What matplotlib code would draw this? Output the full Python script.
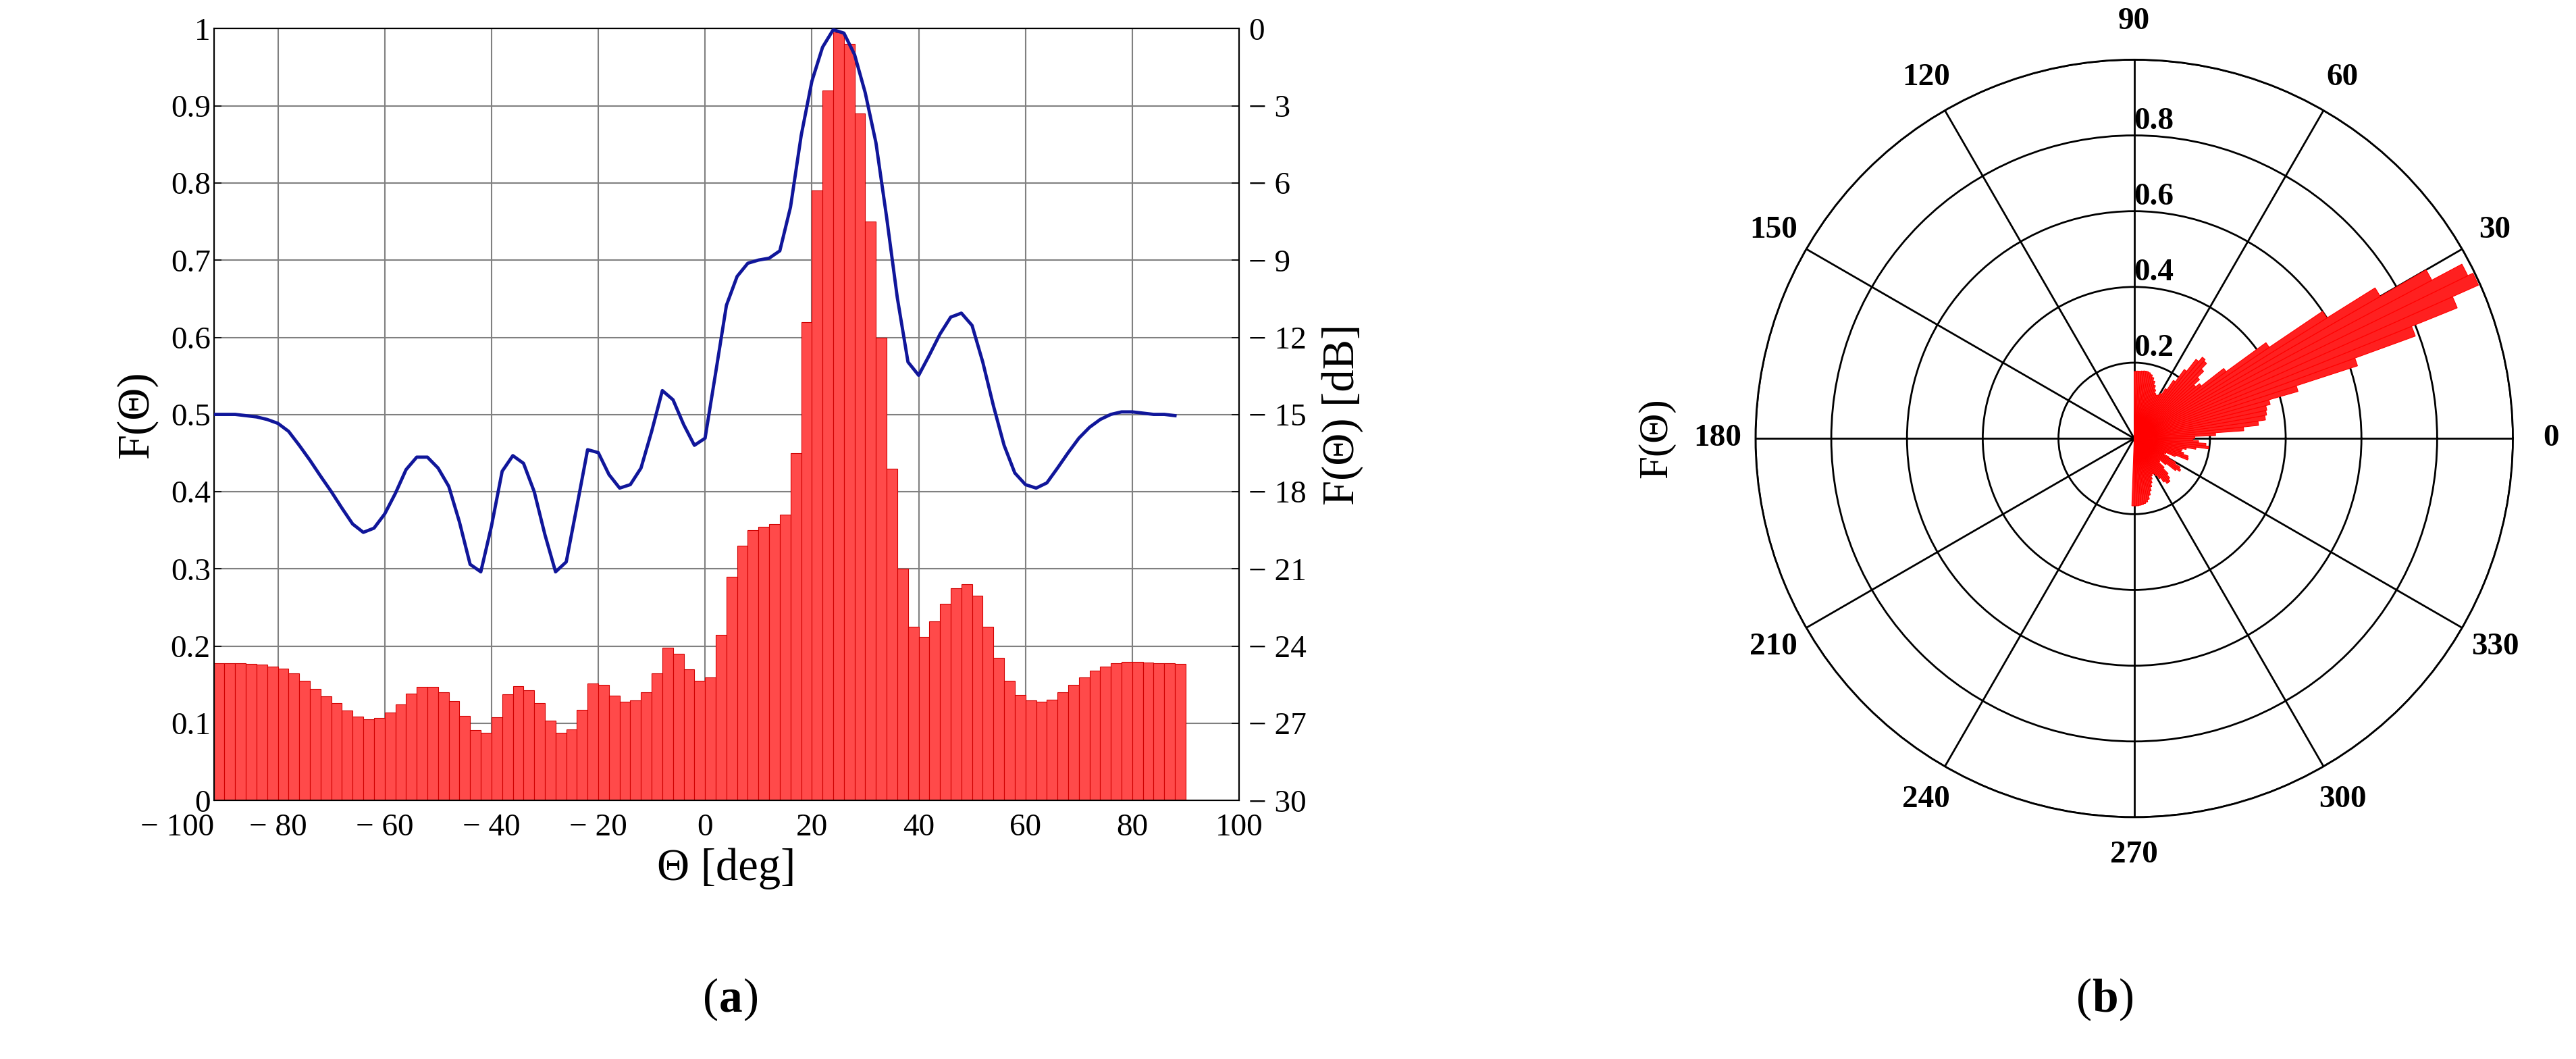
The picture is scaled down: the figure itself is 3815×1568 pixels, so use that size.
import numpy as np
import matplotlib
matplotlib.use("Agg")
import matplotlib.pyplot as plt

theta_deg = np.arange(-92, 89, 2)
F = [0.178, 0.178, 0.178, 0.177, 0.176, 0.174, 0.171, 0.165, 0.155, 0.145,
     0.135, 0.126, 0.117, 0.109, 0.105, 0.107, 0.114, 0.125, 0.139, 0.147,
     0.147, 0.140, 0.129, 0.110, 0.091, 0.088, 0.108, 0.138, 0.148, 0.143,
     0.126, 0.104, 0.088, 0.092, 0.118, 0.152, 0.150, 0.136, 0.128, 0.130,
     0.140, 0.165, 0.198, 0.190, 0.170, 0.155, 0.160, 0.215, 0.290, 0.330,
     0.350, 0.355, 0.358, 0.370, 0.450, 0.620, 0.790, 0.920, 0.995, 0.980,
     0.890, 0.750, 0.600, 0.430, 0.300, 0.225, 0.212, 0.232, 0.255, 0.275,
     0.280, 0.265, 0.225, 0.185, 0.155, 0.137, 0.130, 0.128, 0.131, 0.140,
     0.150, 0.160, 0.168, 0.174, 0.178, 0.180, 0.180, 0.179, 0.178, 0.178,
     0.177]
F = np.array(F)
assert len(F) == len(theta_deg)
F_dB = 20 * np.log10(F)

xticks = [-80, -60, -40, -20, 0, 20, 40, 60, 80, 100]
yticks_left = np.round(np.arange(0, 1.01, 0.1), 1)
yticks_right = np.arange(-30, 1, 3)

serif = ["Liberation Serif", "DejaVu Serif"]
plt.rcParams['font.family'] = serif

fig = plt.figure(figsize=(38.15, 15.68), dpi=100)

# ---- (a)
ax = fig.add_axes([0.083, 0.244, 0.398, 0.729])
ax.bar(theta_deg, F, width=2, align='edge', color='#ff4a4a', edgecolor='#d00000', linewidth=0.8, zorder=2)
ax.set_xlim(-92, 100)
ax.set_ylim(0, 1)
ax.set_xticks([-92] + xticks)
ax.set_xticklabels(["\u2212 100"] + [("\u2212 %d" % -t) if t < 0 else str(t) for t in xticks])
ax.get_xticklabels()[0].set_horizontalalignment('right')
ax.set_yticks(yticks_left)
ax.set_yticklabels(["0"] + ["%.1f" % v for v in yticks_left[1:-1]] + ["1"])
ax.grid(True, color='#808080', linewidth=1.5, zorder=0)
ax.set_axisbelow(True)
ax.tick_params(labelsize=34, length=8, width=1.2, direction='in')
ax.tick_params(axis='x', pad=14)
for s in ax.spines.values():
    s.set_linewidth(1.5)
ax.set_xlabel("\u0398 [deg]", fontsize=48, labelpad=6)
ax.set_ylabel("F(\u0398)", fontsize=48, labelpad=14)

ax2 = ax.twinx()
ax2.plot(theta_deg, F_dB, color='#10169a', linewidth=3.5, zorder=3)
ax2.set_ylim(-30, 0)
ax2.set_yticks(yticks_right)
ax2.set_yticklabels([("\u2212 %d" % -t) if t < 0 else "0" for t in yticks_right])
ax2.tick_params(labelsize=34, length=8, width=1.2, direction='in', pad=10)
ax2.set_ylabel("F(\u0398) [dB]", fontsize=48, labelpad=16)

fig.text(0.279, 0.056, "(", fontsize=50, ha='right', va='center')
fig.text(0.279, 0.056, "a", fontsize=50, ha='left', va='center', fontweight='bold')
fig.text(0.2885, 0.056, ")", fontsize=50, ha='left', va='center')
fig.text(0.812, 0.056, "(", fontsize=50, ha='right', va='center')
fig.text(0.812, 0.056, "b", fontsize=50, ha='left', va='center', fontweight='bold')
fig.text(0.8225, 0.056, ")", fontsize=50, ha='left', va='center')

# ---- (b)
pax = fig.add_axes([0.6815, 0.228, 0.294, 0.716], projection='polar')
pax.bar(np.deg2rad(theta_deg), F, width=np.deg2rad(2), align='edge',
        color='#ff2020', edgecolor='#ff0000', linewidth=0.8, zorder=3)
pax.set_ylim(0, 1)
pax.set_rticks([0.2, 0.4, 0.6, 0.8, 1.0])
pax.set_yticklabels(["0.2", "0.4", "0.6", "0.8", ""], fontsize=34, fontweight='bold')
pax.set_rlabel_position(90)
pax.set_thetagrids(np.arange(0, 360, 30), [str(a) for a in range(0, 360, 30)],
                   fontsize=34, fontweight='bold')
pax.tick_params(axis='x', pad=30)
pax.grid(True, color='black', linewidth=2)
pax.spines['polar'].set_linewidth(2)
fig.text(0.643, 0.586, "F(\u0398)", fontsize=44, rotation=90, ha='center', va='center')

fig.savefig("out.png", dpi=100)
